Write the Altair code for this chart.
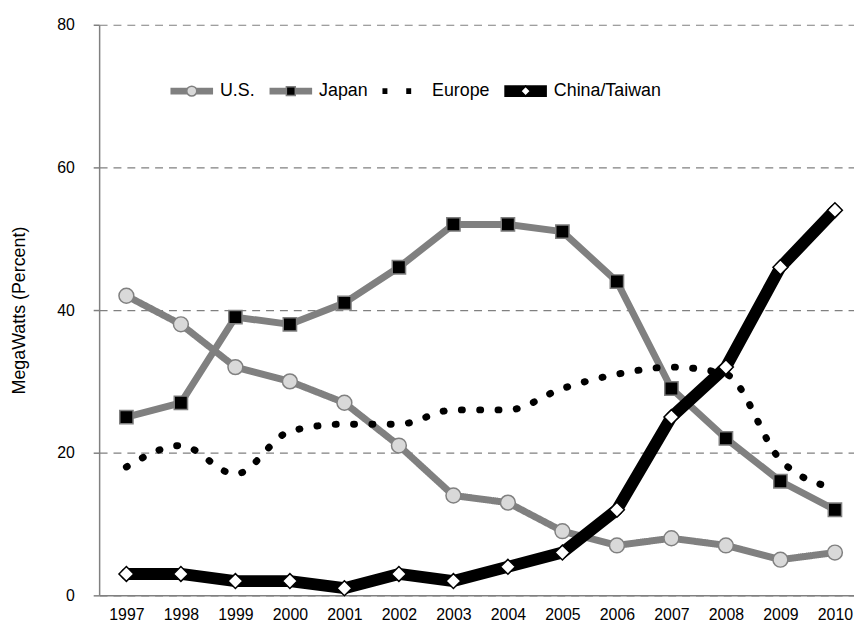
import altair as alt
import pandas as pd

# ---------------- data ----------------
years = list(range(1997, 2011))
series_names = ["U.S.", "Japan", "Europe", "China/Taiwan"]
us_values = [42, 38, 32, 30, 27, 21, 14, 13, 9, 7, 8, 7, 5, 6]
japan_values = [25, 27, 39, 38, 41, 46, 52, 52, 51, 44, 29, 22, 16, 12]
europe_values = [18, 21, 17, 23, 24, 24, 26, 26, 29, 31, 32, 31, 19, 15]
china_values = [3, 3, 2, 2, 1, 3, 2, 4, 6, 12, 25, 32, 46, 54]
y_ticks = [0, 20, 40, 60, 80]

# ---------------- styles ----------------
line_colors = ["#808080", "#808080", "#000000", "#000000"]
line_widths = [7, 7, 6, 12]
legend_dashes = [[1, 0], [1, 0], [5, 19], [1, 0]]
marker_fills = ["#d9d9d9", "#000000", "transparent", "#ffffff"]
marker_strokes = ["#808080", "#808080", "transparent", "#000000"]
marker_shapes = [
    "M-0.19,0A0.19,0.19,0,1,0,0.19,0A0.19,0.19,0,1,0,-0.19,0Z",
    "M-0.17,-0.17L0.17,-0.17L0.17,0.17L-0.17,0.17Z",
    "M-0.19,0L0,-0.19L0.19,0L0,0.19Z",
    "M-0.19,0L0,-0.19L0.19,0L0,0.19Z",
]
marker_keys = [n + "*" for n in series_names]

rows = []
for name, vals in zip(series_names, [us_values, japan_values, europe_values, china_values]):
    for yr, v in zip(years, vals):
        rows.append({"year": yr, "value": v, "series": name, "marker": name + "*"})
df = pd.DataFrame(rows)

FONT = "Liberation Sans"

x_enc = alt.X(
    "year:Q",
    scale=alt.Scale(domain=[1996.5, 2010.35], nice=False, zero=False),
    axis=alt.Axis(values=years, format="d", title=None, grid=False, ticks=False, tickSize=0,
                  labelPadding=11, labelFontSize=16, labelColor="#000000",
                  domainColor="#808080", domainWidth=1.5, labelFlush=False, labelOverlap=False),
)
y_enc = alt.Y(
    "value:Q",
    scale=alt.Scale(domain=[0, 80], nice=False, zero=True),
    axis=alt.Axis(values=y_ticks, title="MegaWatts (Percent)", grid=True, gridDash=[8, 6],
                  gridColor="#808080", gridWidth=1.2, tickSize=6, tickColor="#808080", tickWidth=1.5,
                  labelPadding=19, labelFontSize=16, labelColor="#000000",
                  domainColor="#808080", domainWidth=1.5, labelFlush=False,
                  titleFontSize=18, titleFontWeight="normal", titleColor="#000000",
                  titleX=-80, titleY=288, titleAngle=270, titleAlign="center",
                  titleBaseline="middle"),
)

line_legend = alt.Legend(
    title=None, orient="none", legendX=58, legendY=57, direction="horizontal", columns=4,
    symbolType="stroke", symbolSize=1849, symbolOffset=8, labelOffset=1, clipHeight=20,
    labelFontSize=18, labelColor="#000000", columnPadding=-2, padding=0, zindex=1,
)
point_legend = alt.Legend(
    title=None, orient="none", legendX=58, legendY=57, direction="horizontal", columns=4,
    symbolSize=2809, symbolStrokeWidth=1.5, symbolOffset=8, labelOffset=1, clipHeight=20,
    labelFontSize=18, labelOpacity=0, columnPadding=-2, padding=0, zindex=2,
    labelExpr="replace(datum.label, '*', '')",
)

base = alt.Chart(df)

us_line = base.transform_filter(alt.datum.series == "U.S.").mark_line(
    strokeCap="round", strokeJoin="round"
).encode(
    x=x_enc, y=y_enc,
    color=alt.Color("series:N", scale=alt.Scale(domain=series_names, range=line_colors), legend=line_legend),
    strokeWidth=alt.StrokeWidth("series:N", scale=alt.Scale(type="ordinal", domain=series_names, range=line_widths), legend=line_legend),
    strokeDash=alt.StrokeDash("series:N", scale=alt.Scale(domain=series_names, range=legend_dashes), legend=line_legend),
)

japan_line = base.transform_filter(alt.datum.series == "Japan").mark_line(
    color="#808080", strokeWidth=7, strokeCap="round", strokeJoin="round"
).encode(x=x_enc, y=y_enc)

europe_line = base.transform_filter(alt.datum.series == "Europe").mark_line(
    color="#000000", strokeWidth=7, strokeCap="round", strokeDash=[1, 17.5], interpolate="monotone"
).encode(x=x_enc, y=y_enc)

china_line = base.transform_filter(alt.datum.series == "China/Taiwan").mark_line(
    color="#000000", strokeWidth=12, strokeCap="round", strokeJoin="round"
).encode(x=x_enc, y=y_enc)

points = base.mark_point(filled=True, size=6241, strokeWidth=1.5, opacity=1).encode(
    x=x_enc, y=y_enc,
    fill=alt.Fill("marker:N", scale=alt.Scale(domain=marker_keys, range=marker_fills), legend=point_legend),
    stroke=alt.Stroke("marker:N", scale=alt.Scale(domain=marker_keys, range=marker_strokes), legend=point_legend),
    shape=alt.Shape("marker:N", scale=alt.Scale(domain=marker_keys, range=marker_shapes), legend=point_legend),
)

chart = alt.layer(us_line, japan_line, europe_line, china_line, points).properties(
    width=762, height=576,
    padding={"left": 92, "top": 14, "right": 0, "bottom": 25},
    autosize=alt.AutoSizeParams(type="none"),
    background="#ffffff",
).configure(font=FONT).configure_view(stroke=None)

chart.save("out.html", embed_options={"renderer": "svg", "actions": False})
